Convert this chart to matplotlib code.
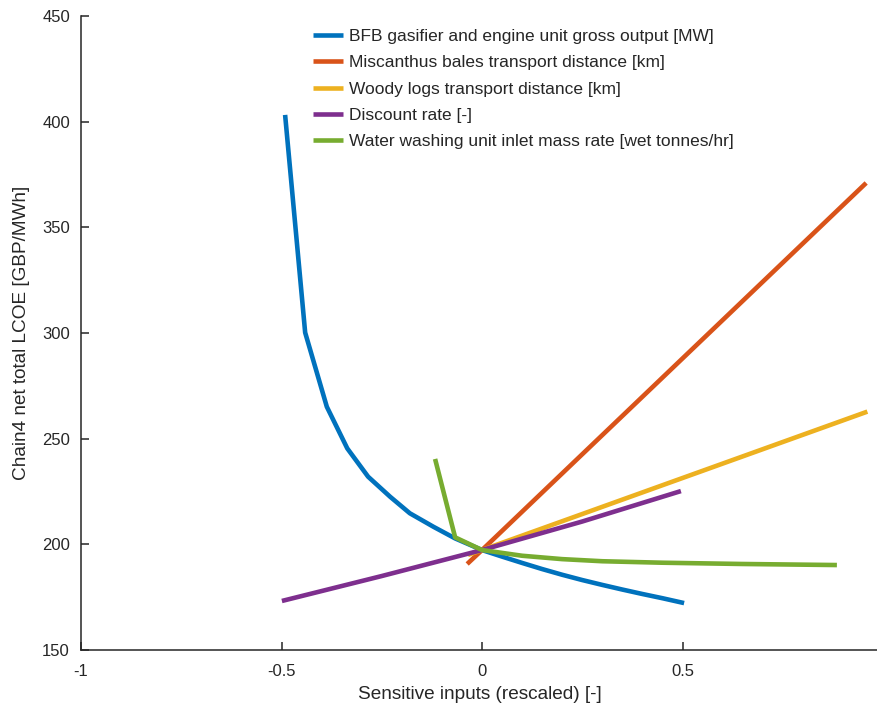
import matplotlib
matplotlib.use("Agg")
import matplotlib.pyplot as plt

plt.rcParams['font.family'] = ['Liberation Sans', 'DejaVu Sans']

labels = [
    "BFB gasifier and engine unit gross output [MW]",
    "Miscanthus bales transport distance [km]",
    "Woody logs transport distance [km]",
    "Discount rate [-]",
    "Water washing unit inlet mass rate [wet tonnes/hr]",
]
colors = ["#0072BD", "#D95319", "#EDB120", "#7E2F8E", "#77AC30"]

bfb_x = [-0.491, -0.441, -0.387, -0.336, -0.284, -0.229, -0.180, -0.121, -0.067, 0.0,
         0.05, 0.1, 0.15, 0.2, 0.25, 0.3, 0.35, 0.4, 0.45, 0.504]
bfb_y = [403.2, 300.2, 265.1, 245.4, 232.0, 222.5, 214.7, 208.3, 202.8, 197.3,
         194.2, 191.2, 188.3, 185.6, 183.1, 180.8, 178.6, 176.5, 174.5, 172.2]

misc_x = [-0.037, 0.0, 0.958]
misc_y = [190.7, 197.3, 371.0]

wood_x = [-0.035, 0.0, 0.961]
wood_y = [195.0, 197.3, 262.8]

disc_x = [-0.499, -0.25, 0.0, 0.25, 0.496]
disc_y = [173.2, 185.0, 197.3, 210.8, 225.2]

wash_x = [-0.117, -0.067, 0.0, 0.1, 0.2, 0.3, 0.45, 0.65, 0.885]
wash_y = [240.4, 203.3, 197.3, 194.6, 193.0, 192.0, 191.3, 190.7, 190.2]

series = [(bfb_x, bfb_y), (misc_x, misc_y), (wood_x, wood_y), (disc_x, disc_y), (wash_x, wash_y)]

xticks = [-1, -0.5, 0, 0.5]
xtick_labels = ["-1", "-0.5", "0", "0.5"]
yticks = [150, 200, 250, 300, 350, 400, 450]

fig = plt.figure(figsize=(8.78, 7.07), dpi=100)
ax = fig.add_axes([81/878, 57/707, (878-81)/878, (650-16)/707])

for (xs, ys), c, lab in zip(series, colors, labels):
    ax.plot(xs, ys, color=c, lw=3.3, label=lab, solid_capstyle='butt')

ax.set_xlim(-1, 0.9875)
ax.set_ylim(150, 450)
ax.set_xticks(xticks)
ax.set_xticklabels(xtick_labels)
ax.set_yticks(yticks)
for s in ['top', 'right']:
    ax.spines[s].set_visible(False)
for s in ['left', 'bottom']:
    ax.spines[s].set_color('#262626')
    ax.spines[s].set_linewidth(1.1)
ax.tick_params(direction='in', length=6, width=1.1, color='#262626',
               labelsize=12, labelcolor='#262626')
ax.tick_params(axis='x', pad=10)
ax.tick_params(axis='y', pad=8)
ax.set_xlabel("Sensitive inputs (rescaled) [-]", fontsize=13.7, color='#262626', labelpad=5)
ax.set_ylabel("Chain4 net total LCOE [GBP/MWh]", fontsize=13.7, color='#262626', labelpad=9)

leg = ax.legend(loc='upper left', bbox_to_anchor=(313/878, 1 - 29/707), bbox_transform=fig.transFigure,
                frameon=False, fontsize=12.5, handlelength=1.73, handletextpad=0.35,
                labelspacing=0.64, borderpad=0, borderaxespad=0)
for t in leg.get_texts():
    t.set_color('#262626')

fig.savefig("out.png", dpi=100)
